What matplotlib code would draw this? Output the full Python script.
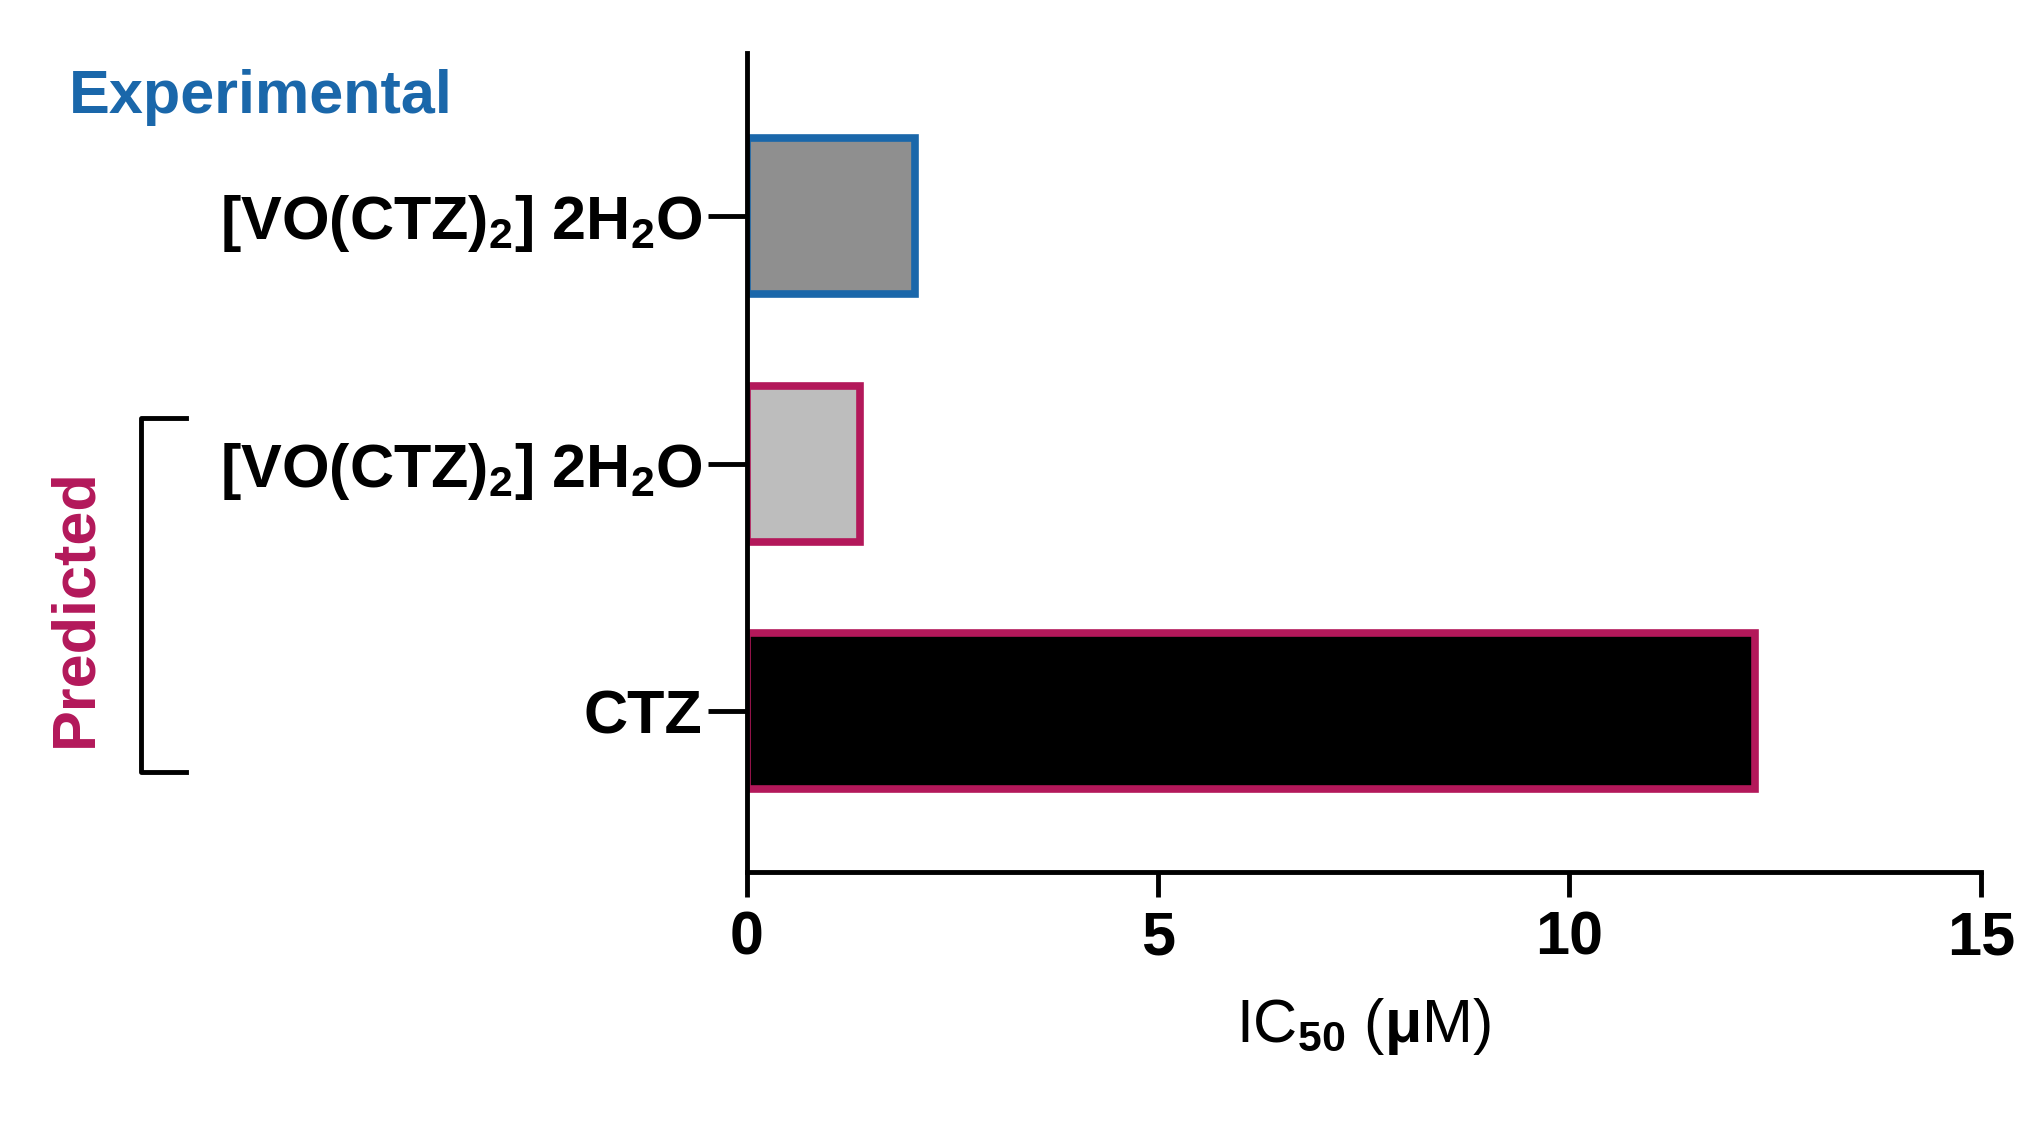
import matplotlib
matplotlib.use('Agg')
import matplotlib.pyplot as plt
from matplotlib.lines import Line2D

plt.rcParams['font.family'] = ['Liberation Sans', 'DejaVu Sans']
plt.rcParams['font.weight'] = 'bold'
plt.rcParams['mathtext.fontset'] = 'custom'
plt.rcParams['mathtext.rm'] = 'Liberation Sans:bold'
plt.rcParams['mathtext.it'] = 'Liberation Sans:bold'
plt.rcParams['mathtext.bf'] = 'Liberation Sans:bold'

labels = [r'[VO(CTZ)$_2$] 2H$_2$O', r'[VO(CTZ)$_2$] 2H$_2$O', 'CTZ']
values = [2.05, 1.38, 12.25]
fills = ['#8f8f8f', '#bdbdbd', '#000000']
edges = ['#1a67aa', '#b3185a', '#b3185a']

fig = plt.figure(figsize=(20.4, 11.43), dpi=100)
ax = fig.add_axes([0.366, 0.237, 0.605, 0.717])

pos = list(range(len(values)))
ax.barh(pos, values, height=0.63, color=fills, edgecolor=edges, linewidth=5.5)
ax.set_ylim(2.65, -0.66)
ax.set_xlim(0, 15)
ax.set_yticks(pos)
ax.set_yticklabels(labels, fontsize=44)
ax.set_xticks([0, 5, 10, 15])
ax.tick_params(axis='y', length=28, width=3.5, pad=4)
ax.tick_params(axis='x', length=18, width=3.5, labelsize=44, pad=10)
for s in ['top', 'right']:
    ax.spines[s].set_visible(False)
for s in ['left', 'bottom']:
    ax.spines[s].set_linewidth(3.5)
ax.set_xlabel(r'IC$_{50}$ ($\mu$M)', fontsize=44, labelpad=20)

fig.text(0.128, 0.915, 'Experimental', color='#1a67aa', fontsize=44, ha='center', va='center')
fig.text(0.037, 0.468, 'Predicted', color='#b3185a', fontsize=44, ha='center', va='center', rotation=90)
bx = [0.091, 0.069, 0.069, 0.091]
by = [0.634, 0.634, 0.325, 0.325]
fig.add_artist(Line2D(bx, by, color='black', linewidth=3.5, transform=fig.transFigure))

fig.savefig('out.png')
